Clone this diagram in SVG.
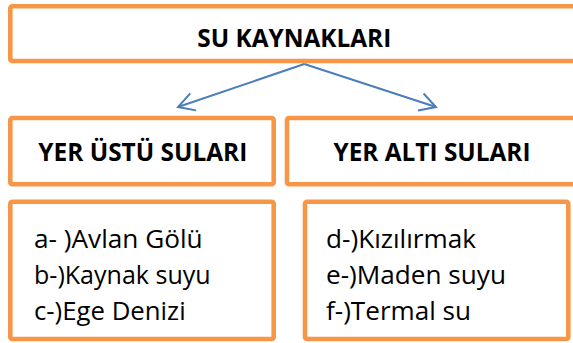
<svg xmlns="http://www.w3.org/2000/svg" width="573" height="343" viewBox="0 0 573 343">
<style>
.box{fill:#ffffff;stroke:#F79646;stroke-width:4.6}
.hd{font-family:"Open Sans","Liberation Sans",sans-serif;font-weight:bold;font-size:25px;fill:#000;text-anchor:middle}
.it{font-family:"Open Sans","Liberation Sans",sans-serif;font-size:26px;fill:#000}
.conn{fill:none;stroke:#4A7EBB;stroke-width:2}
</style>
<defs>
<marker id="arr" markerUnits="userSpaceOnUse" markerWidth="40" markerHeight="40" viewBox="-20 -20 40 40" refX="0" refY="0" orient="auto">
<path d="M-16,-9 L0,0 L-16,9" fill="none" stroke="#4A7EBB" stroke-width="2"/>
</marker>
</defs>
<rect width="573" height="343" fill="#ffffff"/>
<g id="su-kaynaklari">
<rect class="box" x="10.3" y="6.3" width="580" height="54.7" rx="2"/>
<text class="hd" x="294.3" y="47" textLength="194" lengthAdjust="spacingAndGlyphs">SU KAYNAKLARI</text>
</g>
<g id="yer-ustu">
<rect class="box" x="10.3" y="118" width="263.4" height="66.3" rx="2"/>
<text class="hd" x="142.8" y="161" textLength="209" lengthAdjust="spacingAndGlyphs">YER ÜSTÜ SULARI</text>
</g>
<g id="yer-alti">
<rect class="box" x="287" y="118" width="300" height="66.3" rx="2"/>
<text class="hd" x="432" y="161" textLength="197" lengthAdjust="spacingAndGlyphs">YER ALTI SULARI</text>
</g>
<g id="ustu-list">
<rect class="box" x="10.3" y="201.7" width="263.4" height="137.3" rx="2"/>
<text class="it" x="34" y="248" textLength="168.7" lengthAdjust="spacingAndGlyphs">a- )Avlan Gölü</text>
<text class="it" x="34" y="284" textLength="176.7" lengthAdjust="spacingAndGlyphs">b-)Kaynak suyu</text>
<text class="it" x="34" y="319.5" textLength="151.7" lengthAdjust="spacingAndGlyphs">c-)Ege Denizi</text>
</g>
<g id="alti-list">
<rect class="box" x="305" y="201.7" width="263.3" height="137.3" rx="2"/>
<text class="it" x="326" y="248" textLength="150" lengthAdjust="spacingAndGlyphs">d-)Kızılırmak</text>
<text class="it" x="326" y="284" textLength="180" lengthAdjust="spacingAndGlyphs">e-)Maden suyu</text>
<text class="it" x="326" y="319.5" textLength="145" lengthAdjust="spacingAndGlyphs">f-)Termal su</text>
</g>
<g id="connectors">
<line class="conn" x1="304.3" y1="64" x2="178" y2="107" marker-end="url(#arr)"/>
<line class="conn" x1="304.3" y1="64" x2="436" y2="107" marker-end="url(#arr)"/>
</g>
</svg>
